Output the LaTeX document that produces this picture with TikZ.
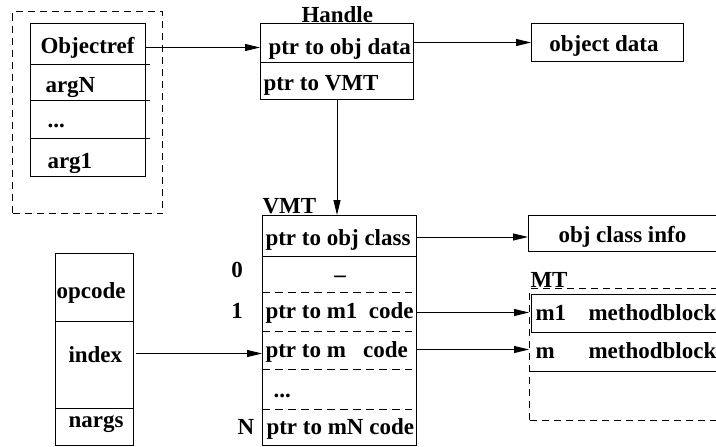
\documentclass[tikz,border=0pt]{standalone}
\usepackage{fontspec}
\setmainfont{Liberation Serif}
\usetikzlibrary{arrows.meta}
\begin{document}
\begin{tikzpicture}[x=1pt,y=-1pt,
  line width=1pt,
  every node/.style={font=\fontsize{23}{27}\selectfont\bfseries},
  solidbox/.style={draw, rectangle, inner sep=0pt, anchor=north west},
  cell/.style={rectangle, inner sep=0pt, anchor=north west},
  txt/.style={anchor=base west, inner sep=0pt},
  ctxt/.style={anchor=base, inner sep=0pt},
  dashbox/.style={draw, rectangle, inner sep=0pt, anchor=north west, dash pattern=on 7pt off 5pt},
  divider/.style={dash pattern=on 8pt off 5pt},
  arr/.style={-{Triangle[length=15pt,width=7pt]}},
]
\useasboundingbox (0,0) rectangle (716,447);
\clip (0,0) rectangle (716,447);

% argument frame and stack
\node[dashbox, minimum width=150pt, minimum height=202pt] (argframe) at (12,11) {};
\node[solidbox, minimum width=115pt, minimum height=153pt] (stack) at (30,23) {};
\node[cell, minimum width=115pt, minimum height=40pt] (objref) at (30,23) {};
\node[cell, minimum width=115pt, minimum height=36pt] (argN) at (30,63) {};
\node[cell, minimum width=115pt, minimum height=38pt] (argdots) at (30,99) {};
\node[cell, minimum width=115pt, minimum height=39pt] (arg1) at (30,137) {};
\draw (objref.south west) -- ([xshift=4pt]objref.south east);
\draw (argN.south west) -- ([xshift=4pt]argN.south east);
\draw (argdots.south west) -- ([xshift=4pt]argdots.south east);
\node[txt] (tobjref) at (40,53) {Objectref};
\node[txt] (targN) at (45,92) {argN};
\node[txt] (targdots) at (47,127) {...};
\node[txt] (targ1) at (47,168) {arg1};

% handle
\node[solidbox, minimum width=153pt, minimum height=76pt] (handle) at (260,23) {};
\node[cell, minimum width=153pt, minimum height=38pt] (hdata) at (260,23) {};
\node[cell, minimum width=153pt, minimum height=38pt] (hvmt) at (260,61) {};
\draw (hdata.south west) -- (hdata.south east);
\node[txt] (thandle) at (301,22) {Handle};
\node[txt] (thdata) at (268,54) {ptr to obj data};
\node[txt] (thvmt) at (263,90.5) {ptr to VMT};

% object data
\node[solidbox, minimum width=152pt, minimum height=38pt] (objdata) at (531,23) {};
\node[ctxt] (tobjdata) at (604,52) {object data};

% VMT
\node[solidbox, minimum width=154pt, minimum height=230pt] (vmt) at (262,215) {};
\node[cell, minimum width=154pt, minimum height=40pt] (vcls) at (262,215) {};
\node[cell, minimum width=154pt, minimum height=36pt] (v0) at (262,255) {};
\node[cell, minimum width=154pt, minimum height=39pt] (vm1) at (262,291) {};
\node[cell, minimum width=154pt, minimum height=38pt] (vm) at (262,330) {};
\node[cell, minimum width=154pt, minimum height=40pt] (vdots) at (262,368) {};
\node[cell, minimum width=154pt, minimum height=37pt] (vmN) at (262,408) {};
\draw (vcls.south west) -- (vcls.south east);
\draw[divider] (v0.south west) -- ([xshift=-5pt]v0.south east);
\draw[divider] (vm1.south west) -- ([xshift=-5pt]vm1.south east);
\draw[divider] (vm.south west) -- ([xshift=-5pt]vm.south east);
\draw[divider] (vdots.south west) -- ([xshift=-5pt]vdots.south east);
\node[txt] (tvmt) at (262,213.5) {VMT};
\node[txt] (tvcls) at (265,245) {ptr to obj class};
\node[ctxt] (tv0) at (340,274) {\_};
\node[txt] (tvm1) at (265,318) {ptr to m1\ \ code};
\node[txt] (tvm) at (265,357) {ptr to m\ \ \ code};
\node[txt] (tvdots) at (273,397) {...};
\node[txt] (tvmN) at (266,434) {ptr to mN code};
\node[ctxt] (n0) at (237,277) {0};
\node[ctxt] (n1) at (237,318) {1};
\node[txt] (nN) at (237,434) {N};

% instruction
\node[solidbox, minimum width=78pt, minimum height=192pt] (instr) at (55,253) {};
\node[cell, minimum width=78pt, minimum height=67pt] (opc) at (55,253) {};
\node[cell, minimum width=78pt, minimum height=87pt] (idx) at (55,320) {};
\node[cell, minimum width=78pt, minimum height=38pt] (narg) at (55,407) {};
\draw (opc.south west) -- (opc.south east);
\draw (idx.south west) -- (idx.south east);
\node[txt] (topc) at (56,298) {opcode};
\node[txt] (tidx) at (68,362) {index};
\node[txt] (tnarg) at (68,427) {nargs};

% obj class info
\node[solidbox, minimum width=220pt, minimum height=36pt] (clsinfo) at (528,215) {};
\node[txt] (tclsinfo) at (558,242) {obj class info};

% MT
\node[dashbox, minimum width=220pt, minimum height=132pt] (mt) at (529,288) {};
\node[txt] (tmt) at (530,287) {MT};
\node[solidbox, minimum width=220pt, minimum height=38pt] (mb1) at (531,294) {};
\node[cell, minimum width=220pt, minimum height=38pt] (mbm) at (529,332) {};
\draw (mbm.south west) -- (mbm.south east);
\node[txt] (tmb1a) at (535,320) {m1};
\node[txt] (tmb1b) at (588,320) {methodblock};
\node[txt] (tmbma) at (535,358) {m};
\node[txt] (tmbmb) at (588,358) {methodblock};

% connectors
\coordinate (c1) at ([yshift=-4pt]objref.east);
\draw[arr] (c1) -- (c1 -| hdata.west);
\draw[arr] (hdata.east) -- (objdata.west);
\draw[arr] (hvmt.south) -- (hvmt.south |- vmt.north);
\coordinate (c2) at ([yshift=10.5pt,xshift=2pt]idx.east);
\draw[arr] (c2) -- (c2 -| vm.west);
\coordinate (c3) at ([yshift=-1.5pt]vcls.east);
\draw[arr] (c3) -- (c3 -| clsinfo.west);
\coordinate (c4) at ([yshift=-1.5pt]vm1.east);
\draw[arr] (c4) -- (c4 -| mt.west);
\draw[arr] (vm.east) -- (vm.east -| mt.west);
\end{tikzpicture}
\end{document}
